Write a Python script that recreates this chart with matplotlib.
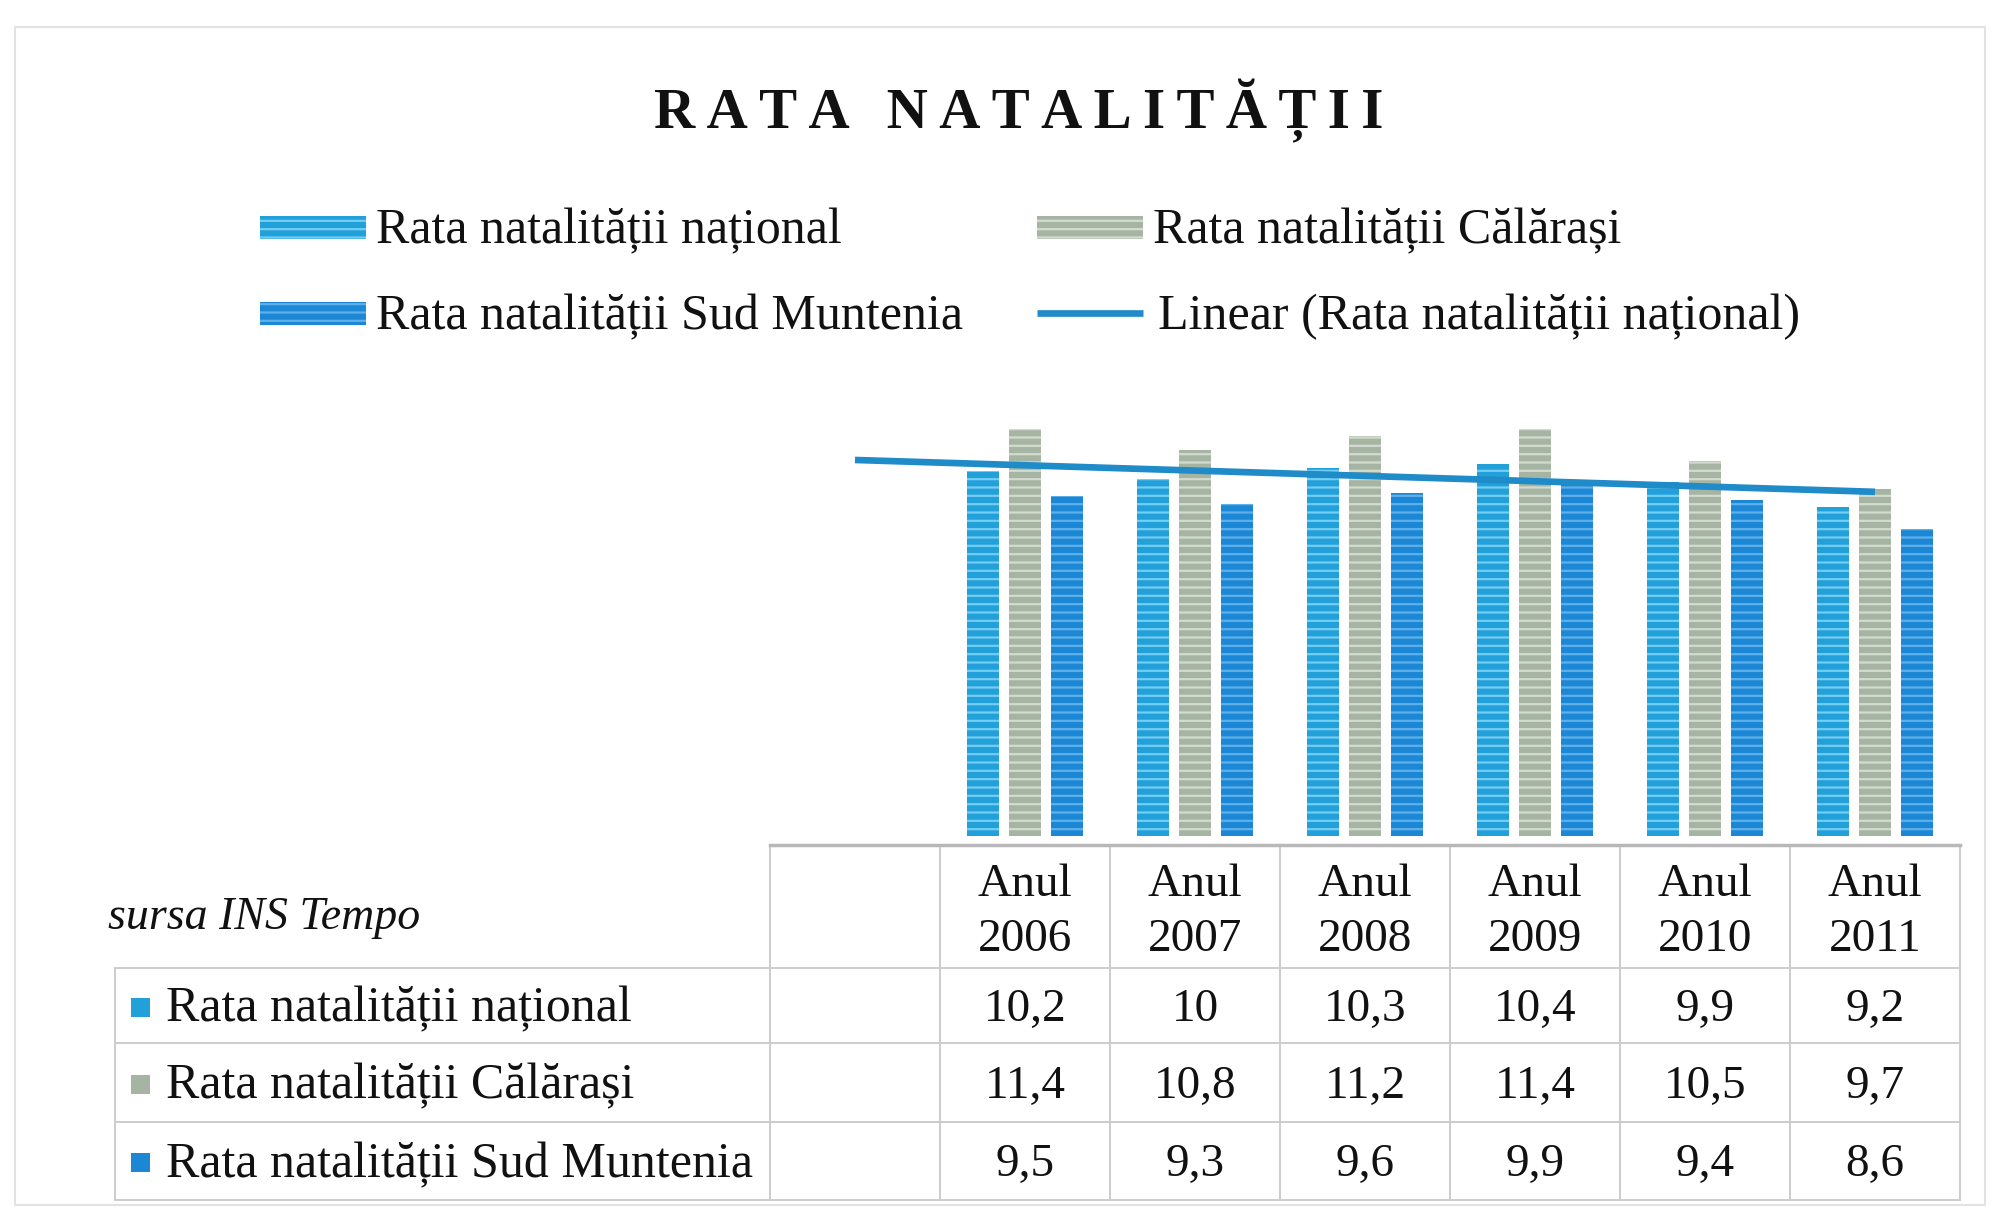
import numpy as np
import matplotlib.pyplot as plt
from matplotlib.patches import Rectangle
from matplotlib.transforms import blended_transform_factory

years = ['2006', '2007', '2008', '2009', '2010', '2011']
national = [10.2, 10.0, 10.3, 10.4, 9.9, 9.2]
calarasi = [11.4, 10.8, 11.2, 11.4, 10.5, 9.7]
sud_muntenia = [9.5, 9.3, 9.6, 9.9, 9.4, 8.6]
series_names = ['Rata natalității național', 'Rata natalității Călărași',
                'Rata natalității Sud Muntenia']
trend_name = 'Linear (Rata natalității național)'
title = 'RATA NATALITĂȚII'
source = 'sursa INS Tempo'

W, H = 2002, 1211
SERIF = ['Liberation Serif', 'DejaVu Serif']
plt.rcParams['hatch.linewidth'] = 1.6

# (bar colour, stripe colour)
styles = [('#22a0da', '#74cdf2'), ('#a6b5a3', '#d3dbcf'), ('#1c87d4', '#5eb0ea')]
trend_color = '#1f8bc9'
grid_color = '#cccccc'
ink = '#111111'

fig = plt.figure(figsize=(W / 100, H / 100), dpi=100)

# overlay in pixel coords, origin top-left
ov = fig.add_axes([0, 0, 1, 1])
ov.set_xlim(0, W)
ov.set_ylim(H, 0)
ov.axis('off')

# bar area: first (blank) column + 6 years, 170 px per column
ax = fig.add_axes([770 / W, (H - 836) / H, 1190 / W, 420 / H])
ax.set_xlim(-1.5, len(years) - 0.5)
ax.set_ylim(0, 11.75)
ax.axis('off')
ax.patch.set_alpha(0)

x = np.arange(len(years))
width, step = 0.19, 0.247
for k, (vals, (fc, hc)) in enumerate(zip([national, calarasi, sud_muntenia], styles)):
    ax.bar(x + (k - 1) * step, vals, width, color=fc, edgecolor=hc,
           linewidth=0, hatch='--')

# linear trend, forecast back one period
slope, icpt = np.polyfit(x, national, 1)
xt = np.array([-1, len(years) - 1])
ax.plot(xt, slope * xt + icpt, color=trend_color, lw=4.8, solid_capstyle='butt')

# title
spaced = '\u2009 \u2009'.join('\u2009'.join(w) for w in title.split(' '))
ov.text(1019, 111, spaced, ha='center', va='center', fontsize=41,
        fontweight='bold', family=SERIF, color=ink)

# legend
dy = 4
leg = [(260, 227, 0), (1037, 227, 1), (260, 313, 2)]
for lx, ly, k in leg:
    ov.add_patch(Rectangle((lx, ly - 11), 106, 23, facecolor=styles[k][0],
                           edgecolor=styles[k][1], linewidth=0, hatch='--'))
    ov.text(lx + 116, ly + dy, series_names[k], ha='left', va='center',
            fontsize=36, family=SERIF, color=ink)
ov.plot([1037, 1143], [313, 313], color=trend_color, lw=4.8, solid_capstyle='butt')
ov.text(1037 + 121, 313 + dy, trend_name, ha='left', va='center',
        fontsize=36, family=SERIF, color=ink)

# data table
tx = blended_transform_factory(ax.transData, ov.transData)
row_lines = [968, 1043, 1122, 1200]
row_mid = [(a + b) / 2 for a, b in zip(row_lines[:-1], row_lines[1:])]

for e in np.arange(-1.5, len(years)):
    ov.plot([e, e], [845, 1200], transform=tx, color=grid_color, lw=1.4)
ov.plot([-1.5, len(years) - 0.5], [845, 845], transform=tx, color='#b8b8b8', lw=2.5)
ov.plot([115, 115], [968, 1200], color=grid_color, lw=1.4)
for y in row_lines:
    ov.plot([115, 1960], [y, y], color=grid_color, lw=1.4)

for i, yr in enumerate(years):
    ov.text(i, 881 + dy, 'Anul', transform=tx, ha='center', va='center',
            fontsize=34, family=SERIF, color=ink)
    ov.text(i, 936 + dy, yr, transform=tx, ha='center', va='center',
            fontsize=34, family=SERIF, color=ink)

ov.text(108, 914 + dy, source, ha='left', va='center', fontsize=33,
        family=SERIF, style='italic', color=ink)

for k, (vals, ym) in enumerate(zip([national, calarasi, sud_muntenia], row_mid)):
    ov.add_patch(Rectangle((131, ym - 8), 19, 19, facecolor=styles[k][0],
                           edgecolor='none'))
    ov.text(166, ym + dy, series_names[k], ha='left', va='center',
            fontsize=36, family=SERIF, color=ink)
    for i, v in enumerate(vals):
        ov.text(i, ym + dy, f'{v:g}'.replace('.', ','), transform=tx,
                ha='center', va='center', fontsize=34, family=SERIF,
                color=ink)

# faint outer frame of the chart
ov.add_patch(Rectangle((15, 27), 1970, 1178, fill=False,
                       edgecolor='#e2e2e2', lw=1.5))

fig.savefig('out.png', dpi=100, facecolor='white')
